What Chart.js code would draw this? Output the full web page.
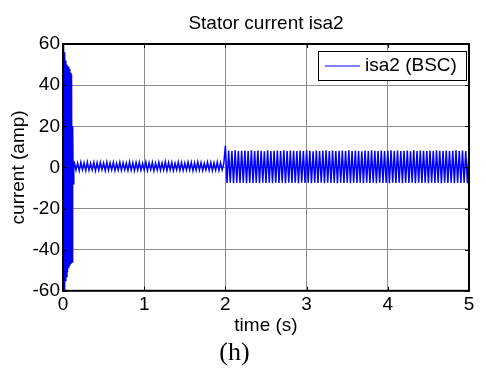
<!DOCTYPE html>
<html>
<head>
<meta charset="utf-8">
<title>Stator current isa2</title>
<script src="https://cdn.jsdelivr.net/npm/chart.js@4.4.1/dist/chart.umd.min.js"></script>
<style>
  html, body { margin: 0; padding: 0; background: #fff; }
</style>
</head>
<body>
<canvas id="isaChart" width="486" height="370"></canvas>
<script>
// axis ticks
const xTicks = [0, 1, 2, 3, 4, 5];
const yTicks = [-60, -40, -20, 0, 20, 40, 60];
const chartTitle = 'Stator current isa2';

// start-up transient, one sample every 7 ms from t = 0
const startupStart = 0;
const startupStep = 0.007;
const startupVals = [0, 60, -60, 56, -55, 52, -53, 50, -51, 49, -49, 48, -48, 46, -47, 45, -46, 20, -8, 2];

// small ripple before the load step (0.14 s .. 1.98 s, every 20 ms)
const rippleStart = 0.14;
const rippleStep = 0.02;
const rippleVals = [
  2.4,-1.3,2.1,-1.6,2.5,-1.2,2.2,-1.5,2.6,-1.4,
  2.0,-1.2,2.4,-1.6,2.3,-1.3,2.5,-1.1,2.1,-1.5,
  2.6,-1.4,2.2,-1.2,2.4,-1.6,2.0,-1.3,2.5,-1.4,
  2.3,-1.2,2.1,-1.5,2.7,-1.3,2.2,-1.6,2.4,-1.2,
  2.5,-1.4,2.0,-1.3,2.6,-1.5,2.3,-1.1,2.4,-1.6,
  2.1,-1.3,2.5,-1.4,2.2,-1.2,2.8,-1.5,2.3,-1.3,
  2.4,-1.6,2.0,-1.2,2.6,-1.4,2.3,-1.5,2.1,-1.3,
  2.5,-1.2,2.4,-1.6,2.2,-1.4,2.7,-1.3,2.3,-1.5,
  2.0,-1.2,2.5,-1.4,2.4,-1.6,2.2,-1.3,2.6,-1.5,
  2.3,-1.2,1.8
];

// after the load step (2 s .. 5 s, every 20 ms)
const loadStart = 2.0;
const loadStep = 0.02;
const loadVals = [
  10.5,-7.6,8.2,-7.4,8.0,-7.7,8.3,-7.5,7.9,-7.6,
  8.1,-7.4,8.2,-7.7,7.9,-7.5,8.3,-7.6,8.0,-7.4,
  8.2,-7.7,8.1,-7.5,7.8,-7.6,8.3,-7.4,8.0,-7.7,
  8.1,-7.5,8.2,-7.6,7.9,-7.4,8.3,-7.7,8.0,-7.5,
  8.2,-7.6,8.1,-7.4,7.9,-7.7,8.2,-7.5,8.0,-7.6,
  8.3,-7.4,8.1,-7.7,7.8,-7.5,8.2,-7.6,8.0,-7.4,
  8.1,-7.7,8.3,-7.5,7.9,-7.6,8.2,-7.4,8.0,-7.7,
  8.1,-7.5,8.2,-7.6,7.9,-7.4,8.3,-7.7,8.0,-7.5,
  8.2,-7.6,8.1,-7.4,7.8,-7.7,8.2,-7.5,8.0,-7.6,
  8.3,-7.4,8.1,-7.7,7.9,-7.5,8.2,-7.6,8.0,-7.4,
  8.1,-7.7,8.3,-7.5,7.9,-7.6,8.2,-7.4,8.0,-7.7,
  8.1,-7.5,8.2,-7.6,7.8,-7.4,8.3,-7.7,8.0,-7.5,
  8.2,-7.6,8.1,-7.4,7.9,-7.7,8.2,-7.5,8.0,-7.6,
  8.3,-7.4,8.1,-7.7,7.9,-7.5,8.2,-7.6,8.0,-7.4,
  8.1,-7.7,8.3,-7.5,7.9,-7.6,8.2,-7.4,8.0,-7.7,
  8.1
];

const sansFont = "'Liberation Sans', Arial, sans-serif";

function toPoints(start, step, vals) {
  return vals.map(function(v, i) {
    return { x: +(start + i * step).toFixed(4), y: v };
  });
}

const points = [].concat(
  toPoints(startupStart, startupStep, startupVals),
  toPoints(rippleStart, rippleStep, rippleVals),
  toPoints(loadStart, loadStep, loadVals)
);

// black box round the plot with inward tick marks (matlab style)
const framePlugin = {
  id: 'frame',
  afterDatasetsDraw(chart) {
    const ctx = chart.ctx;
    const a = chart.chartArea;
    const xs = chart.scales.x, ys = chart.scales.y;
    ctx.save();
    ctx.strokeStyle = '#000';
    ctx.lineWidth = 1;
    ctx.beginPath();
    xTicks.forEach(function(v) {
      const px = Math.round(xs.getPixelForValue(v)) + 0.5;
      ctx.moveTo(px, a.top); ctx.lineTo(px, a.top + 4);
      ctx.moveTo(px, a.bottom); ctx.lineTo(px, a.bottom - 4);
    });
    yTicks.forEach(function(v) {
      const py = Math.round(ys.getPixelForValue(v)) + 0.5;
      ctx.moveTo(a.left, py); ctx.lineTo(a.left + 4, py);
      ctx.moveTo(a.right, py); ctx.lineTo(a.right - 4, py);
    });
    ctx.stroke();
    ctx.lineWidth = 2;
    ctx.strokeRect(a.left, a.top, a.right - a.left, a.bottom - a.top);
    ctx.restore();
  }
};

// title centred over the plot box, and the boxed legend top right
const titleLegendPlugin = {
  id: 'titleLegend',
  afterDraw(chart) {
    const ctx = chart.ctx;
    const a = chart.chartArea;
    ctx.save();
    ctx.fillStyle = '#000';
    ctx.font = '19px ' + sansFont;
    ctx.textAlign = 'center';
    ctx.textBaseline = 'middle';
    ctx.fillText(chartTitle, (a.left + a.right) / 2, 24);

    const w = 148, h = 29;
    const x0 = a.right - 3 - w, y0 = a.top + 7;
    ctx.fillStyle = '#fff';
    ctx.fillRect(x0, y0, w, h);
    ctx.strokeStyle = '#000';
    ctx.lineWidth = 1;
    ctx.strokeRect(x0 + 0.5, y0 + 0.5, w, h);
    const cy = y0 + h / 2 + 0.5;
    ctx.strokeStyle = '#0000ff';
    ctx.beginPath();
    ctx.moveTo(x0 + 7, cy); ctx.lineTo(x0 + 42, cy);
    ctx.stroke();
    ctx.fillStyle = '#000';
    ctx.textAlign = 'left';
    ctx.fillText(chart.data.datasets[0].label, x0 + 47, cy);
    ctx.restore();
  }
};

new Chart(document.getElementById('isaChart'), {
  type: 'line',
  data: {
    datasets: [{
      label: 'isa2 (BSC)',
      data: points,
      borderColor: '#0000ff',
      borderWidth: 1.5,
      pointRadius: 0,
      tension: 0,
      fill: false
    }]
  },
  options: {
    responsive: false,
    animation: false,
    layout: { padding: { left: 0, right: 17, top: 44, bottom: 0 } },
    plugins: {
      legend: { display: false },
      tooltip: { enabled: false },
      title: { display: false },
      subtitle: {
        display: true,
        position: 'bottom',
        text: '(h)',
        color: '#000',
        font: { family: "'Liberation Serif', 'Times New Roman', serif", size: 26, weight: 'normal' },
        padding: { top: 0, bottom: 1 }
      }
    },
    scales: {
      x: {
        type: 'linear',
        min: 0,
        max: 5,
        afterBuildTicks(scale) { scale.ticks = xTicks.map(v => ({ value: v })); },
        afterFit(scale) { scale.height = 47; },
        ticks: { color: '#000', padding: 3, maxRotation: 0, font: { family: sansFont, size: 19 } },
        grid: { color: '#8c8c8c', lineWidth: 1, drawTicks: false },
        border: { display: false },
        title: {
          display: true,
          text: 'time (s)',
          color: '#000',
          font: { family: sansFont, size: 19 },
          padding: { top: 0, bottom: 1 }
        }
      },
      y: {
        min: -60,
        max: 60,
        afterBuildTicks(scale) { scale.ticks = yTicks.map(v => ({ value: v })); },
        afterFit(scale) { scale.width = 63; },
        ticks: { color: '#000', padding: 3, font: { family: sansFont, size: 19 } },
        grid: { color: '#8c8c8c', lineWidth: 1, drawTicks: false },
        border: { display: false },
        title: {
          display: true,
          text: 'current (amp)',
          color: '#000',
          font: { family: sansFont, size: 19 },
          padding: { top: 7, bottom: 0 }
        }
      }
    }
  },
  plugins: [framePlugin, titleLegendPlugin]
});
</script>
</body>
</html>
